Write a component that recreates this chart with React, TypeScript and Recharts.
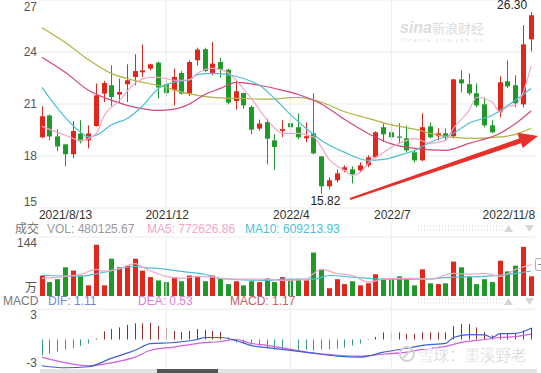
import React from 'react';
import { ComposedChart, Bar, Line, XAxis, YAxis, CartesianGrid, ReferenceLine, ReferenceDot } from 'recharts';

const RED = '#e3261c';
const GREEN = '#1f9a2a';
const GRID = '#ececec';
const FONT = 'Arial, "Liberation Sans", "Noto Sans CJK SC", sans-serif';

// weekly candles, 2021/8/13 .. 2022/11/8
const open = [19.08, 20.34, 19.13, 18.67, 18.1, 19.3, 18.9, 19.73, 21.6, 22.08, 21.54, 22.14, 22.56, 22.83, 23.04, 23.39, 22.14, 21.79, 22.79, 21.6, 23.52, 24.16, 22.79, 23.42, 22.98, 21.17, 21.63, 20.83, 19.58, 19.96, 18.9, 19.45, 19.89, 19.66, 19.02, 19.31, 17.98, 16.25, 16.6, 17.17, 17.23, 17.17, 17.46, 17.92, 19.66, 19.37, 19.12, 19.02, 18.21, 17.75, 19.71, 19.14, 19.31, 19.14, 22.42, 22.14, 21.62, 20.98, 19.77, 20.52, 22.31, 22.08, 20.98, 24.73];
const high = [20.87, 20.4, 19.54, 18.7, 20.02, 20.06, 19.77, 22.18, 22.33, 23.23, 22.46, 23.29, 23.87, 24.43, 23.33, 23.45, 22.37, 23.04, 22.9, 23.52, 24.25, 24.25, 24.58, 23.67, 23.04, 22.37, 21.65, 20.92, 20.1, 20.16, 19.25, 20.06, 20.46, 20.46, 19.94, 21.62, 17.98, 16.77, 17.23, 17.46, 17.4, 17.63, 18.04, 19.43, 19.88, 19.94, 19.89, 19.77, 18.33, 20.46, 19.94, 19.6, 19.6, 22.45, 22.94, 22.77, 22.19, 21.38, 20.06, 22.6, 23.52, 22.66, 25.54, 26.3];
const low = [19.02, 18.9, 18.29, 17.4, 17.87, 18.73, 18.44, 19.7, 21.11, 20.87, 21.06, 21.11, 22.08, 22.56, 22.94, 21.31, 21.44, 20.92, 21.55, 21.46, 23.23, 22.85, 22.66, 22.52, 20.98, 20.68, 20.73, 19.25, 19.45, 17.52, 17.21, 19.1, 19.48, 18.96, 18.79, 18.1, 15.82, 16.08, 16.48, 17.06, 16.42, 17.06, 17.35, 17.87, 18.8, 18.9, 18.73, 18.21, 17.63, 17.7, 19.02, 18.9, 18.9, 19.02, 21.67, 21.5, 20.81, 19.66, 19.31, 20.23, 21.91, 20.81, 20.81, 24.04];
const close = [20.29, 19.13, 18.55, 18.1, 19.44, 18.85, 19.3, 21.5, 22.21, 21.4, 21.69, 22.37, 22.9, 22.94, 23.29, 21.95, 21.63, 22.56, 21.6, 23.42, 24.14, 22.9, 23.33, 22.98, 21.08, 21.73, 20.92, 19.52, 19.87, 19.0, 18.52, 19.55, 19.66, 19.08, 19.14, 18.15, 16.25, 16.6, 17.0, 17.35, 16.94, 17.46, 17.92, 19.37, 19.25, 19.08, 19.05, 18.33, 17.75, 19.66, 19.08, 19.31, 19.08, 22.42, 22.19, 21.62, 20.92, 19.77, 19.37, 22.25, 22.02, 21.04, 24.44, 26.12];
// volume in 万手
const volume = [50, 34, 41, 70, 62, 50, 26, 125, 26, 91, 70, 74, 91, 62, 46, 38, 34, 46, 36, 50, 46, 36, 50, 43, 29, 36, 26, 36, 34, 43, 34, 46, 41, 41, 38, 106, 65, 19, 41, 29, 36, 26, 31, 53, 43, 41, 48, 41, 26, 65, 31, 29, 31, 84, 70, 48, 29, 41, 34, 86, 60, 74, 120, 48];
const macdHist = [-1.55, -1.4, -1.2, -1.0, -0.85, -0.65, -0.4, 0.1, 0.8, 1.05, 1.2, 1.45, 1.6, 1.6, 1.65, 1.35, 1.1, 0.85, 0.75, 0.85, 1.05, 0.95, 0.85, 0.75, 0.2, -0.3, -0.4, -0.5, -0.6, -0.8, -1.0, -1.0, -1.0, -1.0, -1.0, -1.1, -1.0, -0.95, -0.9, -0.8, -0.6, -0.4, -0.05, 0.25, 0.7, 0.7, 0.7, 0.55, 0.55, 0.7, 0.7, 0.7, 0.7, 1.35, 1.55, 1.55, 1.2, 0.75, 0.4, 0.6, 0.6, 0.65, 0.9, 1.17];

// averages at some weeks: [week, value]
const ma5Pts = [[1, 19.71], [4, 19.2], [6, 18.9], [8, 19.3], [9, 20.3], [11, 21.21], [13, 22.2], [15, 22.54], [16, 22.54], [18, 22.37], [20, 22.4], [21, 22.77], [23, 23.06], [25, 22.8], [27, 21.85], [28, 21.3], [30, 20.1], [32, 19.31], [34, 19.31], [36, 19.1], [37, 18.5], [38, 17.8], [40, 17.17], [41, 16.88], [42, 17.06], [43, 17.57], [45, 18.21], [46, 18.5], [48, 18.9], [49, 19.0], [51, 18.73], [53, 18.9], [54, 19.6], [56, 20.63], [57, 21.39], [59, 21.1], [60, 20.52], [61, 20.87], [62, 20.95], [63, 21.7], [64, 23.2]];
const ma10Pts = [[1, 21.96], [4, 20.23], [6, 19.37], [7, 19.1], [8, 19.2], [10, 19.8], [12, 20.17], [14, 20.9], [16, 21.9], [18, 22.25], [20, 22.4], [21, 22.7], [23, 22.77], [26, 22.6], [28, 22.3], [29, 22.08], [31, 21.3], [33, 20.4], [35, 19.6], [37, 18.9], [40, 18.21], [43, 17.75], [45, 17.8], [47, 18.04], [49, 18.33], [51, 18.79], [54, 19.31], [56, 19.89], [59, 20.35], [61, 20.92], [64, 21.9]];
const ma20Pts = [[1, 23.7], [4, 22.83], [7, 21.79], [10, 21.21], [13, 20.81], [16, 20.63], [18, 20.7], [20, 21.0], [22, 21.55], [24, 21.9], [26, 22.25], [29, 22.08], [32, 21.79], [34, 21.55], [37, 21.0], [40, 20.1], [43, 19.3], [46, 18.7], [49, 18.44], [53, 18.33], [56, 18.73], [60, 19.31], [62, 19.88], [64, 20.6]];
const ma60Pts = [[1, 25.4], [4, 24.55], [7, 23.55], [10, 22.75], [13, 22.35], [16, 22.07], [20, 21.58], [23, 21.38], [26, 21.32], [30, 21.28], [34, 21.38], [37, 21.1], [40, 20.55], [43, 20.17], [46, 19.8], [49, 19.55], [52, 19.2], [54, 19.08], [57, 19.02], [60, 19.1], [62, 19.25], [64, 19.6]];
const vma5Pts = [[1, 43], [4, 48], [6, 53], [8, 65], [9, 60], [11, 67], [13, 79], [14, 70], [17, 48], [19, 43], [21, 48], [23, 46], [25, 41], [30, 41], [32, 38], [35, 40], [36, 55], [37, 65], [39, 55], [41, 50], [43, 34], [45, 41], [47, 43], [49, 43], [51, 41], [54, 55], [56, 53], [58, 55], [60, 48], [62, 65], [64, 77]];
const vma10Pts = [[1, 50], [6, 48], [9, 58], [13, 72], [14, 70], [17, 65], [19, 60], [22, 53], [24, 43], [30, 38], [32, 41], [36, 41], [38, 50], [41, 46], [45, 41], [50, 41], [54, 46], [58, 48], [62, 55], [64, 61]];
const difPts = [[1, -2.6], [4, -2.8], [7, -2.7], [10, -1.85], [13, -1.07], [15, -0.4], [18, -0.3], [21, 0], [22, 0.2], [24, 0.2], [26, -0.1], [28, -0.6], [30, -0.8], [33, -1.07], [36, -1.36], [39, -1.65], [42, -1.75], [45, -1.26], [48, -0.87], [50, -0.58], [53, -0.39], [54, 0.2], [56, 0.49], [58, 0.45], [59, 0.2], [60, 0.58], [62, 0.6], [64, 1.11]];
const deaPts = [[1, -1.75], [4, -2.3], [7, -2.6], [10, -2.3], [13, -1.75], [15, -1.07], [18, -0.75], [21, -0.4], [24, -0.2], [26, 0], [28, -0.4], [30, -0.58], [33, -0.97], [36, -1.36], [39, -1.55], [42, -1.65], [45, -1.46], [48, -1.26], [50, -0.97], [53, -0.68], [55, -0.29], [58, 0], [60, 0.2], [62, 0.29], [64, 0.53]];

const dateTicks = [1, 17, 33, 46, 64];
const dateLabels = ['2021/8/13', '2021/12', '2022/4', '2022/7', '2022/11/8'];
const gridWeeks = [17, 33, 46];
const priceTicks = [27, 24, 21, 18, 15];
const pctLabels = ['32%', '16%', '3%', '-12%', '-26%'];
const volTicks = [144, 0];
const macdTicks = [3, -3];

const pick = (pts: number[][], i: number) => {
  const f = pts.find((p) => p[0] === i);
  return f ? f[1] : null;
};

const rows = open.map((o, k) => {
  const i = k + 1;
  return {
    i, o, h: high[k], l: low[k], c: close[k], v: volume[k], m: macdHist[k],
    ma5: pick(ma5Pts, i), ma10: pick(ma10Pts, i), ma20: pick(ma20Pts, i), ma60: pick(ma60Pts, i),
    vma5: pick(vma5Pts, i), vma10: pick(vma10Pts, i), dif: pick(difPts, i), dea: pick(deaPts, i),
  };
});

const hiIdx = high.indexOf(Math.max(...high));
const loIdx = low.indexOf(Math.min(...low));

const Candle = (props: any) => {
  const { x, y, width, height, payload } = props;
  const { o, h, l, c } = payload;
  const color = c >= o ? RED : GREEN;
  const k = height / (h - l || 1);
  const cx = Math.round(x + width / 2);
  const yOf = (v: number) => y + (h - v) * k;
  const top = yOf(Math.max(o, c));
  const bot = yOf(Math.min(o, c));
  return (
    <g>
      <rect x={cx} y={y} width={1} height={Math.max(1, height)} fill={color} />
      <rect x={cx - 2} y={top} width={5} height={Math.max(1, bot - top)} fill={color} />
    </g>
  );
};

const VolBar = (props: any) => {
  const { x, y, width, height, payload } = props;
  const cx = Math.round(x + width / 2);
  return <rect x={cx - 2} y={y} width={5} height={height} fill={payload.c >= payload.o ? RED : GREEN} />;
};

const MacdBar = (props: any) => {
  const { x, y, width, height, payload } = props;
  const cx = Math.round(x + width / 2);
  const top = height < 0 ? y + height : y;
  return <rect x={cx} y={top} width={1} height={Math.abs(height)} fill={payload.m >= 0 ? '#9a2a2a' : '#2f9f78'} />;
};

const PriceTick = ({ y, payload, index }: any) => {
  const dy = index === 0 ? 7 : index === priceTicks.length - 1 ? -6 : 0;
  return (
    <text x={37} y={y + dy} dy="0.35em" textAnchor="end" fontSize={12} fill="#555" fontFamily={FONT}>
      {payload.value}
    </text>
  );
};

const PctTick = ({ y, payload, index }: any) => {
  const dy = index === 0 ? 7 : index === priceTicks.length - 1 ? -6 : 6;
  return (
    <text x={536} y={y + dy} dy="0.35em" textAnchor="end" fontSize={12} fill="#bbb" fontFamily={FONT}>
      {pctLabels[priceTicks.indexOf(payload.value)]}
    </text>
  );
};

const DateTick = ({ x, y, payload }: any) => {
  const k = dateTicks.indexOf(payload.value);
  const anchor = k === 0 ? 'start' : k === dateTicks.length - 1 ? 'end' : 'middle';
  const dx = k === 0 ? -3 : k === dateTicks.length - 1 ? 4 : 1;
  return (
    <text x={x + dx} y={y + 7} dy="0.35em" textAnchor={anchor} fontSize={12} fill="#333" fontFamily={FONT}>
      {dateLabels[k]}
    </text>
  );
};

const VolTick = ({ y, payload }: any) => (
  <text x={37} y={payload.value === 0 ? y - 8 : y + 6} dy="0.35em" textAnchor="end" fontSize={12} fill="#555" fontFamily={FONT}>
    {payload.value === 0 ? '万' : payload.value}
  </text>
);

const MacdTick = ({ y, payload }: any) => (
  <text x={37} y={payload.value > 0 ? y + 6 : y - 7} dy="0.35em" textAnchor="end" fontSize={12} fill="#555" fontFamily={FONT}>
    {payload.value}
  </text>
);

const HighLabel = (p: any) => {
  const { x, y } = p.viewBox;
  return (
    <g>
      <rect x={x - 33} y={y - 12} width={34} height={12} fill="#fff" />
      <text x={x - 3} y={y - 6} dy="0.35em" textAnchor="end" fontSize={12} fill="#222" fontFamily={FONT}>
        {high[hiIdx].toFixed(2)}
      </text>
    </g>
  );
};

const LowLabel = (p: any) => {
  const { x, y } = p.viewBox;
  return (
    <text x={x + 5} y={y + 8} dy="0.35em" textAnchor="middle" fontSize={12} fill="#222" fontFamily={FONT}>
      {low[loIdx].toFixed(2)}
    </text>
  );
};

const maLine = (key: string, color: string, axis: string) => (
  <Line
    key={key}
    yAxisId={axis}
    dataKey={key}
    type="monotone"
    stroke={color}
    strokeWidth={1.2}
    dot={false}
    connectNulls
    isAnimationActive={false}
  />
);

const noTick = { tickLine: false, axisLine: false, tickSize: 0, tickMargin: 0, interval: 0 as const };

const Dots = ({ y }: { y: number }) => (
  <g>
    <line x1={418} x2={503} y1={y} y2={y} stroke="#ccc" strokeDasharray="1 2" />
    <line x1={418} x2={503} y1={y + 4} y2={y + 4} stroke="#ccc" strokeDasharray="1 2" />
    <path d={`M504 ${y + 6}L508.5 ${y - 1}L513 ${y + 6}Z`} fill="#d6d6d6" />
    <path d={`M525 ${y - 1}L534 ${y - 1}L529.5 ${y + 6}Z`} fill="#d6d6d6" />
  </g>
);

export default function App() {
  return (
    <div style={{ position: 'absolute', left: 0, top: 0, width: 541, height: 373, background: '#fff', overflow: 'hidden', fontFamily: FONT }}>
      <div style={{ position: 'absolute', left: 0, top: 0 }}>
        <ComposedChart width={541} height={225} data={rows} margin={{ top: 0, right: 0, bottom: 0, left: 0 }}>
          <CartesianGrid yAxisId="p" vertical={false} stroke={GRID} />
          <XAxis dataKey="i" ticks={dateTicks} tick={<DateTick />} height={17} {...noTick} />
          <YAxis yAxisId="p" domain={[15, 27]} ticks={priceTicks} tick={<PriceTick />} width={38} {...noTick} />
          <YAxis yAxisId="pct" orientation="right" domain={[15, 27]} ticks={priceTicks} tick={<PctTick />} width={6} {...noTick} />
          {gridWeeks.map((w) => (
            <ReferenceLine key={w} yAxisId="p" x={w} stroke={GRID} />
          ))}
          <Bar yAxisId="p" dataKey={(d: any) => [d.l, d.h]} shape={<Candle />} barSize={5} isAnimationActive={false} />
          {maLine('ma60', '#b2b343', 'p')}
          {maLine('ma20', '#d2487e', 'p')}
          {maLine('ma10', '#4cbfd6', 'p')}
          {maLine('ma5', '#f3a6c8', 'p')}
          <ReferenceDot yAxisId="p" x={hiIdx + 1} y={high[hiIdx]} r={1} fill="none" stroke="none" label={(p: any) => <HighLabel {...p} />} />
          <ReferenceDot yAxisId="p" x={loIdx + 1} y={low[loIdx]} r={1} fill="none" stroke="none" label={(p: any) => <LowLabel {...p} />} />
        </ComposedChart>
      </div>
      <div style={{ position: 'absolute', left: 0, top: 225 }}>
        <ComposedChart width={541} height={71} data={rows} margin={{ top: 0, right: 6, bottom: 0, left: 0 }}>
          <XAxis dataKey="i" hide />
          <YAxis yAxisId="v" domain={[0, 173.3]} ticks={volTicks} tick={<VolTick />} width={38} {...noTick} />
          <ReferenceLine yAxisId="v" y={144} stroke={GRID} />
          {gridWeeks.map((w) => (
            <ReferenceLine key={w} yAxisId="v" x={w} stroke={GRID} />
          ))}
          <Bar yAxisId="v" dataKey="v" shape={<VolBar />} barSize={5} isAnimationActive={false} />
          {maLine('vma10', '#4cbfd6', 'v')}
          {maLine('vma5', '#f3a6c8', 'v')}
        </ComposedChart>
      </div>
      <div style={{ position: 'absolute', left: 0, top: 296 }}>
        <ComposedChart width={541} height={77} data={rows} margin={{ top: 0, right: 6, bottom: 0, left: 0 }}>
          <XAxis dataKey="i" hide />
          <YAxis yAxisId="m" domain={[-3.32, 4.31]} ticks={macdTicks} tick={<MacdTick />} width={38} {...noTick} />
          <ReferenceLine yAxisId="m" y={3} stroke={GRID} />
          {gridWeeks.map((w) => (
            <ReferenceLine key={w} yAxisId="m" x={w} stroke={GRID} />
          ))}
          <Bar yAxisId="m" dataKey="m" shape={<MacdBar />} barSize={1} isAnimationActive={false} />
          {maLine('dea', '#d05ede', 'm')}
          {maLine('dif', '#3f5fcf', 'm')}
        </ComposedChart>
      </div>

      <svg width={541} height={373} style={{ position: 'absolute', left: 0, top: 0, pointerEvents: 'none' }} fontFamily={FONT}>
        {/* sina watermark */}
        <text x={400} y={33} fontSize={16} fontWeight="bold" fontStyle="italic" fill="#dcdcdc">sina</text>
        <text x={432} y={33} fontSize={13} fill="#dcdcdc">新浪财经</text>
        <text x={402} y={42} fontSize={5} fill="#dcdcdc" letterSpacing={2}>finance.sina.com.cn</text>

        {/* legend rows */}
        <text x={15} y={233} fontSize={12} fill="#777">成交</text>
        <text x={47} y={233} fontSize={12} fill="#999">VOL: 480125.67</text>
        <text x={147} y={233} fontSize={12} fill="#f3a6c8">MA5: 772626.86</text>
        <text x={245} y={233} fontSize={12} fill="#4cbfd6">MA10: 609213.93</text>
        <Dots y={226} />
        <text x={3} y={305} fontSize={12} fill="#777">MACD</text>
        <text x={48} y={305} fontSize={12} fill="#6b88e0">DIF: 1.11</text>
        <text x={138} y={305} fontSize={12} fill="#de7ade">DEA: 0.53</text>
        <text x={230} y={305} fontSize={12} fill="#c26262">MACD: 1.17</text>
        <Dots y={299} />

        {/* box at right of volume panel */}
        <rect x={535.5} y={258.5} width={12} height={12} rx={2} fill="#fff" stroke="#aaa" />
        <line x1={538} x2={541} y1={264.5} y2={264.5} stroke="#888" />

        {/* red arrow */}
        <polygon points="349.7,198.1 519.1,138.6 517.5,132.8 538,136 522.7,148 521.1,143.2 350.3,199.9" fill="#e8302a" />

        {/* xueqiu watermark */}
        <circle cx={407} cy={354} r={7} fill="none" stroke="#d3d3d3" strokeWidth={2} />
        <path d="M403 358 L411 350" stroke="#d3d3d3" strokeWidth={2} />
        <text x={418} y={361} fontSize={15.5} fill="#d3d3d3" stroke="#fff" strokeWidth={0.3}>雪球：墨溪野老</text>

        {/* scrollbar */}
        <rect x={40} y={369} width={497} height={4} fill="#e3e3e3" />
        <rect x={157} y={369} width={61} height={4} fill="#555" />
      </svg>
    </div>
  );
}
